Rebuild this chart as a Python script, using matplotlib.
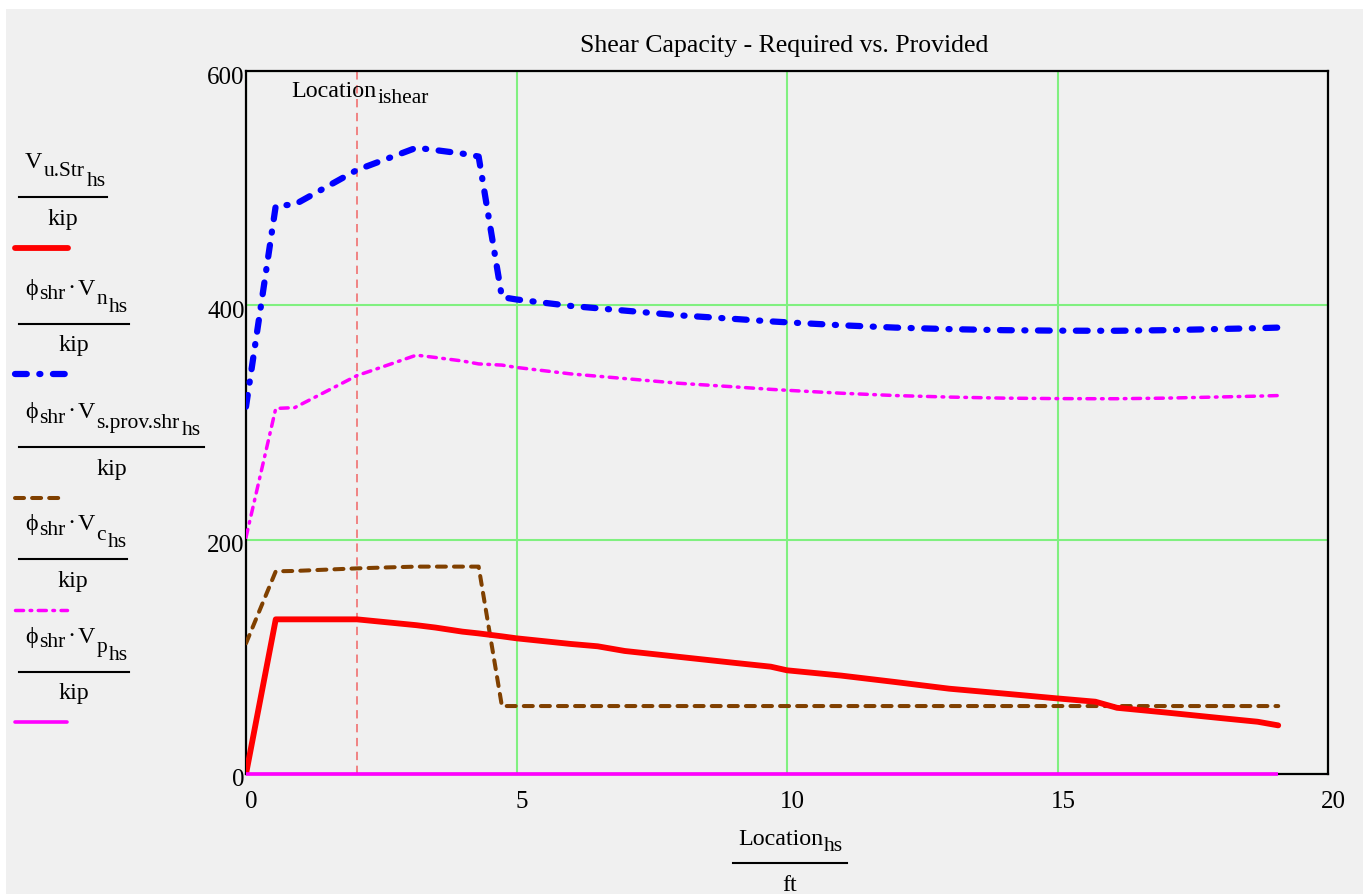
import matplotlib
matplotlib.use('Agg')
import matplotlib.pyplot as plt
from matplotlib.lines import Line2D
from matplotlib.patches import Rectangle
import matplotlib.transforms as mtransforms

W, H = 1371, 894
SERIF = ['Liberation Serif', 'DejaVu Serif']
plt.rcParams['font.family'] = SERIF
plt.rcParams['lines.scale_dashes'] = False

# ---------------- data ----------------
location_ft = [0.0, 0.55, 0.9, 2.05, 2.6, 3.15, 3.5, 4.0, 4.3, 4.73,
               5.0, 6.0, 6.5, 7.0, 8.0, 9.0, 9.7, 10.0, 11.0, 12.0,
               13.0, 14.0, 15.0, 15.7, 16.1, 17.0, 18.0, 18.7, 19.08]
v_u_str = [0, 132, 132, 132, 129.5, 127, 125, 121.5, 120, 117.5,
           115.8, 111, 109, 105, 100, 95, 91.6, 88.5, 84, 78.5,
           72.8, 68.7, 64.5, 61.7, 56.5, 52.5, 47.8, 44.6, 41.5]
phi_v_n = [313.5, 485, 486, 515.5, 525, 534.5, 532.5, 529.5, 527, 407,
           405, 399.5, 397.5, 395.5, 391.5, 388.5, 386.3, 385.5, 383, 381,
           379.7, 378.8, 378.4, 378.3, 378.3, 378.8, 379.8, 380.5, 381]
phi_v_s = [111.5, 173, 173.3, 175.5, 176.3, 177, 177, 177, 177, 58,
           58, 58, 58, 58, 58, 58, 58, 58, 58, 58,
           58, 58, 58, 58, 58, 58, 58, 58, 58]
phi_v_c = [202, 312, 312.7, 340, 348.7, 357.5, 355.5, 352.5, 350, 349,
           347, 341.5, 339.5, 337.5, 333.5, 330.5, 328.3, 327.5, 325, 323,
           321.7, 320.8, 320.4, 320.3, 320.3, 320.8, 321.8, 322.5, 323]
phi_v_p = [0, 0, 0, 0, 0, 0, 0, 0, 0, 0,
           0, 0, 0, 0, 0, 0, 0, 0, 0, 0,
           0, 0, 0, 0, 0, 0, 0, 0, 0]
location_ishear = 2.05
x_ticks = [0, 5, 10, 15, 20]
y_ticks = [0, 200, 400, 600]
title = 'Shear Capacity - Required vs. Provided'

# ---------------- styles ----------------
styles = {
    'vu': dict(color='#ff0000', lw=4.2, solid_capstyle='round', solid_joinstyle='round'),
    'vn': dict(color='#0000ff', lw=4.5, dashes=(8.5, 9, 0.8, 9), dash_capstyle='round'),
    'vs': dict(color='#804000', lw=2.9, dashes=(6.5, 5.8), dash_capstyle='round'),
    'vc': dict(color='#ff00ff', lw=2.5, dashes=(5.8, 4.7, 1.2, 4.7), dash_capstyle='round'),
    'vp': dict(color='#ff00ff', lw=2.6, solid_capstyle='butt'),
}
BG = '#f0f0f0'
GRID = '#80f080'

fig = plt.figure(figsize=(W / 100, H / 100), dpi=100, facecolor='white')
fig.add_artist(Rectangle((6 / W, 0), (1363 - 6) / W, 1 - 9 / H, transform=fig.transFigure,
                         facecolor=BG, edgecolor='none', zorder=-10))

ax = fig.add_axes([246 / W, 1 - 774 / H, (1328 - 246) / W, (774 - 71) / H])
ax.set_facecolor(BG)
ax.set_xlim(0, 20)
ax.set_ylim(0, 600)
ax.set_xticks(x_ticks)
ax.set_yticks(y_ticks)
ax.set_xticklabels([str(t) for t in x_ticks])
ax.set_yticklabels([str(t) for t in y_ticks])
ax.tick_params(length=0, labelsize=18)
ax.tick_params(axis='x', pad=12.5)
ax.tick_params(axis='y', pad=1)
for s in ax.spines.values():
    s.set_linewidth(1.6)
    s.set_color('black')
    s.set_zorder(3)
ax.grid(True, color=GRID, lw=1.5)
ax.set_axisbelow(True)

dx = mtransforms.ScaledTranslation(5.5 / 100, 0, fig.dpi_scale_trans)
for lbl in ax.get_xticklabels():
    lbl.set_transform(lbl.get_transform() + dx)
dy = mtransforms.ScaledTranslation(0, -6.5 / 100, fig.dpi_scale_trans)
for lbl in ax.get_yticklabels():
    lbl.set_transform(lbl.get_transform() + dy)
    lbl.set_va('center')

ax.axvline(location_ishear, color='#f07070', lw=1.2, dashes=(6, 4), zorder=2)

ax.plot(location_ft, phi_v_s, zorder=4, **styles['vs'])
ax.plot(location_ft, phi_v_c, zorder=4, **styles['vc'])
ax.plot(location_ft, v_u_str, zorder=5, **styles['vu'])
ax.plot(location_ft, phi_v_n, zorder=5, **styles['vn'])
ax.plot(location_ft, phi_v_p, zorder=6, clip_on=False, **styles['vp'])

# ---------------- texts ----------------
renderer = fig.canvas.get_renderer()


def px_text(x, y, s, size, ha='left'):
    return fig.text(x / W, 1 - y / H, s, fontsize=size, ha=ha, va='baseline', family=SERIF)


def runs(x, y, parts, gap=1.8):
    for s, size, ddy in parts:
        t = px_text(x, y + ddy, s, size)
        bb = t.get_window_extent(renderer)
        x += bb.width + gap
    return x


def hline(x0, x1, y, **kw):
    fig.add_artist(Line2D([x0 / W, x1 / W], [1 - y / H, 1 - y / H], transform=fig.transFigure, **kw))


MAIN, SUB = 17.3, 15.5
PHI = 'ϕ'

px_text(784, 51.7, title, 18.5, ha='center')

# Location_ishear marker label
runs(291.7, 96.7, [('Location', MAIN, 0), ('ishear', SUB, 6)], gap=0.5)

# x-axis label fraction
runs(738.3, 845, [('Location', MAIN, 0), ('hs', SUB, 5.7)], gap=0.5)
hline(733, 847, 862.7, color='black', lw=1.5)
px_text(790, 890.7, 'ft', MAIN, ha='center')

# y "legend" fractions on the left
legend_items = [
    ([('V', MAIN, 0), ('u.Str', SUB, 7.7), ('hs', SUB, 17.7)], 168.3, 107, 'vu', 68),
    ([(PHI, MAIN, 0), ('shr', SUB, 4.5), ('·', MAIN, -1), ('V', MAIN, 0), ('n', SUB, 9.5), ('hs', SUB, 17)], 294.8, 129, 'vn', 68),
    ([(PHI, MAIN, 0), ('shr', SUB, 4.5), ('·', MAIN, -1), ('V', MAIN, 0), ('s.prov.shr', SUB, 9.5), ('hs', SUB, 17)], 418.3, 204, 'vs', 60),
    ([(PHI, MAIN, 0), ('shr', SUB, 4.5), ('·', MAIN, -1), ('V', MAIN, 0), ('c', SUB, 9.5), ('hs', SUB, 17)], 530.3, 127, 'vc', 67),
    ([(PHI, MAIN, 0), ('shr', SUB, 4.5), ('·', MAIN, -1), ('V', MAIN, 0), ('p', SUB, 9.5), ('hs', SUB, 17)], 642.8, 129, 'vp', 67),
]
for parts, base, line_end, key, samp_end in legend_items:
    runs(25, base, parts)
    ly = base + 29
    hline(19, line_end, ly, color='black', lw=1.5)
    px_text((19 + line_end) / 2, ly + 27.5, 'kip', MAIN, ha='center')
    st = dict(styles[key])
    if key == 'vp':
        st['solid_capstyle'] = 'round'
    hline(15, samp_end, ly + 50.5, **st)

fig.savefig('out.png', dpi=100, facecolor='white')
